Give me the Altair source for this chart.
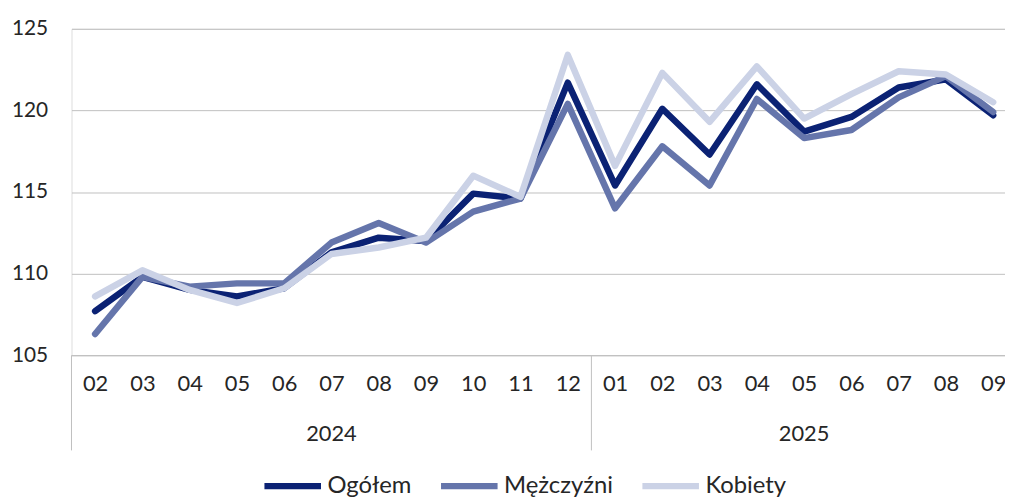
import altair as alt
import pandas as pd

# ---- data ----
months = ["02", "03", "04", "05", "06", "07", "08", "09", "10", "11", "12",
          "01", "02", "03", "04", "05", "06", "07", "08", "09"]
years = ["2024"] * 11 + ["2025"] * 9
series_names = ["Ogółem", "Mężczyźni", "Kobiety"]
series_colors = ["#0B2274", "#6575AB", "#CBD2E6"]
ogolem = [107.7, 109.8, 109.0, 108.6, 109.1, 111.3, 112.2, 112.0, 114.9, 114.6, 121.7,
          115.4, 120.1, 117.3, 121.6, 118.7, 119.6, 121.4, 121.9, 119.7]
mezczyzni = [106.3, 109.8, 109.2, 109.4, 109.4, 111.9, 113.1, 111.9, 113.8, 114.6, 120.4,
             114.0, 117.8, 115.4, 120.7, 118.3, 118.8, 120.8, 122.1, 119.9]
kobiety = [108.6, 110.2, 109.0, 108.2, 109.1, 111.2, 111.6, 112.2, 116.0, 114.7, 123.4,
           116.6, 122.3, 119.3, 122.7, 119.5, 121.0, 122.4, 122.2, 120.5]
y_ticks = [105, 110, 115, 120, 125]

FONT = "Lato"
TXT = "#262626"
GRID = "#BFBFBF"
W, H = 941, 329

rows = []
for name, vals in zip(series_names, [ogolem, mezczyzni, kobiety]):
    for i, v in enumerate(vals):
        rows.append({"idx": i, "month": months[i], "year": years[i], "series": name, "value": v})
df = pd.DataFrame(rows)

# year groups: label centred over its months, dividers at group starts
yrs = []
for y in dict.fromkeys(years):
    ids = [i for i, yy in enumerate(years) if yy == y]
    yrs.append({"year": y, "center": (ids[0] + ids[-1]) / 2, "start": ids[0] - 0.5})
ydf = pd.DataFrame(yrs)

x_domain = [-0.5, 19.25]
label_expr = "[" + ",".join(f"'{m}'" for m in months) + "][datum.value]"

x_scale = alt.Scale(domain=x_domain, nice=False, zero=False)
y_scale = alt.Scale(domain=[105, 125], nice=False, zero=False)
color_scale = alt.Scale(domain=series_names, range=series_colors)

base = alt.Chart(df)

lines = []
for k, name in enumerate(series_names):
    enc = dict(
        x=alt.X("idx:Q", scale=x_scale,
                axis=alt.Axis(values=list(range(len(months))), labelExpr=label_expr,
                              title=None, grid=False, ticks=False, domain=True,
                              domainColor=GRID, domainWidth=1, labelFont=FONT,
                              labelFontSize=22, labelColor=TXT, labelBaseline="middle",
                              labelPadding=29, labelFlush=False, labelOverlap=False)),
        y=alt.Y("value:Q", scale=y_scale,
                axis=alt.Axis(values=y_ticks, title=None, grid=True, gridColor=GRID,
                              gridWidth=1, ticks=False, domain=False, labelFont=FONT,
                              labelFontSize=21, labelColor=TXT, labelPadding=24)),
        color=alt.Color("series:N", scale=color_scale,
                        legend=alt.Legend(title=None, orient="none", legendX=191, legendY=429,
                                          direction="horizontal", symbolType="stroke",
                                          symbolSize=3249, symbolStrokeWidth=6.5,
                                          labelFont=FONT, labelFontSize=24, labelColor=TXT,
                                          labelOffset=3, columnPadding=16) if k == 0 else None),
    )
    lines.append(
        base.transform_filter(alt.datum.series == name)
        .mark_line(strokeWidth=6.5, strokeCap="round", strokeJoin="round")
        .encode(**enc)
    )

dividers = alt.Chart(ydf).mark_rule(color=GRID, strokeWidth=1).encode(
    x=alt.X("start:Q", scale=x_scale),
    y=alt.value(H),
    y2=alt.value(H + 96),
)

year_text = alt.Chart(ydf).mark_text(font=FONT, fontSize=22, color=TXT, baseline="middle").encode(
    x=alt.X("center:Q", scale=x_scale),
    y=alt.value(H + 80),
    text="year:N",
)

chart = alt.layer(*lines, dividers, year_text).properties(
    width=W, height=H,
    autosize=alt.AutoSizeParams(type="none"),
    padding={"left": 64, "top": 19, "right": 0, "bottom": 143},
).configure_view(stroke=None).configure(background="white")

chart.save("out.html", embed_options={"renderer": "svg", "actions": False})
